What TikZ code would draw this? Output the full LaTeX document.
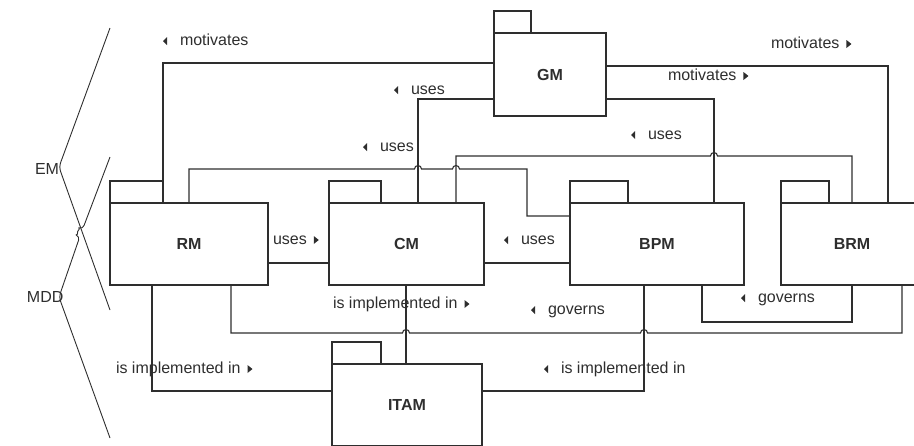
\documentclass[tikz,border=0pt]{standalone}
\usepackage{fontspec}
\setmainfont{Liberation Sans}
\newcommand{\tril}{\tikz[baseline=0pt]\fill (0pt,4pt) -- (4pt,8pt) -- (4pt,0pt) -- cycle;\hspace{13pt}}
\newcommand{\trir}{\hspace{7pt}\tikz[baseline=0pt]\fill (0pt,0pt) -- (0pt,8pt) -- (5pt,4pt) -- cycle;}
\begin{document}
\begin{tikzpicture}[x=1pt,y=-1pt,line width=1.1pt,color=black!82,
  pkg/.style={draw,minimum height=82pt,inner sep=0pt,outer sep=0pt,font=\fontsize{16}{19}\selectfont\bfseries},
  tabbox/.style={draw},
  lbl/.style={anchor=base west,inner sep=0pt,outer sep=0pt,font=\fontsize{16}{19}\selectfont},
  conn/.style={draw},
  brk/.style={draw,line width=0.9pt,rounded corners=4pt}]
\useasboundingbox (0,0) rectangle (914,445);
\clip (0,0) rectangle (914,445);
% packages
\node[pkg,minimum width=112pt,minimum height=83pt] (GM) at (550,74.5) {GM};
\node[pkg,minimum width=158pt] (RM) at (189,244) {RM};
\node[pkg,minimum width=155pt] (CM) at (406.5,244) {CM};
\node[pkg,minimum width=174pt] (BPM) at (657,244) {BPM};
\node[pkg,minimum width=142pt] (BRM) at (852,244) {BRM};
\node[pkg,minimum width=150pt] (ITAM) at (407,405) {ITAM};
\draw[tabbox] (GM.north west) rectangle ++(37,-22);
\draw[tabbox] (RM.north west) rectangle ++(53,-22);
\draw[tabbox] (CM.north west) rectangle ++(52,-22);
\draw[tabbox] (BPM.north west) rectangle ++(58,-22);
\draw[tabbox] (BRM.north west) rectangle ++(48,-22);
\draw[tabbox] (ITAM.north west) rectangle ++(49,-22);
% connectors
\draw[conn] (RM.north -| 163,0) |- (GM.west |- 0,63);
\draw[conn] (CM.north -| 418,0) |- (GM.west |- 0,99);
\draw[conn] (RM.north -| 189,0) -- (189,169) -- (414.5,169) arc[start angle=180,end angle=360,radius=3.5]
  -- (452.5,169) arc[start angle=180,end angle=360,radius=3.5] -- (527,169) -- (527,216) -- (BPM.west |- 0,216);
\draw[conn] (CM.north -| 456,0) -- (456,156) -- (710.5,156) arc[start angle=180,end angle=360,radius=3.5]
  -- (852,156) -- (BRM.north -| 852,0);
\draw[conn] (GM.east |- 0,99) -| (BPM.north -| 714,0);
\draw[conn] (GM.east |- 0,66) -| (BRM.north -| 888,0);
\draw[conn] (RM.east |- 0,263) -- (CM.west |- 0,263);
\draw[conn] (CM.east |- 0,263) -- (BPM.west |- 0,263);
\draw[conn] (RM.south -| 152,0) |- (ITAM.west |- 0,391);
\draw[conn] (CM.south -| 406,0) -- (ITAM.north -| 406,0);
\draw[conn] (RM.south -| 231,0) -- (231,333) -- (402.5,333) arc[start angle=180,end angle=360,radius=3.5]
  -- (640.5,333) arc[start angle=180,end angle=360,radius=3.5] -- (902,333) -- (BRM.south -| 902,0);
\draw[conn] (BPM.south -| 644,0) |- (ITAM.east |- 0,391);
\draw[conn] (BPM.south -| 702,0) -- (702,322) -- (852,322) -- (BRM.south -| 852,0);
% labels
\node[lbl] (l1) at (163,45) {\tril motivates};
\node[lbl] (l2) at (394,94) {\tril uses};
\node[lbl] (l3) at (363,151) {\tril uses};
\node[lbl] (l4) at (771,48) {motivates\trir};
\node[lbl] (l5) at (668,80) {motivates\trir};
\node[lbl] (l6) at (631,139) {\tril uses};
\node[lbl] (l7) at (273,244) {uses\trir};
\node[lbl] (l8) at (504,244) {\tril uses};
\node[lbl] (l9) at (116,373) {is implemented in\trir};
\node[lbl] (l10) at (333,308) {is implemented in\trir};
\node[lbl] (l11) at (531,314) {\tril governs};
\node[lbl] (l12) at (544,373) {\tril is implemented in};
\node[lbl] (l13) at (741,302) {\tril governs};
\node[lbl] (em) at (35,174) {EM};
\node[lbl] (mdd) at (27,302) {MDD};
% brackets
\draw[brk] (110,28) -- (59,167) -- (110,310);
\draw[brk] (110,157) -- (82.6,229.3) arc[start angle=-69.2,end angle=-249.2,radius=3.8] -- (59,297) -- (110,438);
\end{tikzpicture}
\end{document}
